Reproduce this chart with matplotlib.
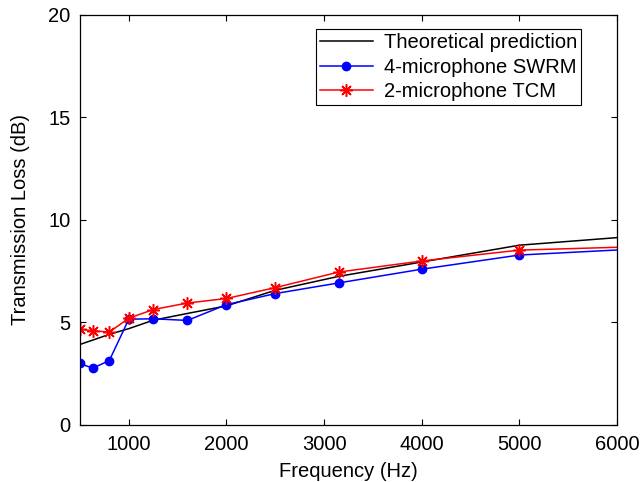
import matplotlib
matplotlib.use("Agg")
import matplotlib.pyplot as plt

plt.rcParams['font.family'] = ['Liberation Sans', 'DejaVu Sans']

# third-octave band centres (Hz); last point lies beyond the axis limit
freq = [500, 630, 800, 1000, 1250, 1600, 2000, 2500, 3150, 4000, 5000, 6300]

tl_theory = [3.93, 4.14, 4.42, 4.70, 5.11, 5.44, 5.81, 6.57, 7.25, 7.95, 8.77, 9.25]
tl_swrm = [3.00, 2.77, 3.14, 5.16, 5.18, 5.10, 5.87, 6.41, 6.93, 7.60, 8.29, 8.61]
tl_tcm = [4.67, 4.60, 4.53, 5.21, 5.63, 5.95, 6.17, 6.70, 7.46, 8.00, 8.53, 8.71]

fs = 14.5

fig = plt.figure(figsize=(6.42, 4.82), dpi=100)
ax = fig.add_axes([0.1246, 0.1183, 0.8364, 0.8506])

ax.plot(freq, tl_theory, color="black", lw=1.1, label="Theoretical prediction")
ax.plot(freq, tl_swrm, color="blue", lw=1.1, marker="o", ms=6,
        label="4-microphone SWRM")
ax.plot(freq, tl_tcm, color="red", lw=1.1, marker=(8, 2, 0), ms=9, mew=1.1,
        label="2-microphone TCM")

ax.set_xlim(500, 6000)
ax.set_ylim(0, 20)
ax.set_xticks([1000, 2000, 3000, 4000, 5000, 6000])
ax.set_yticks([0, 5, 10, 15, 20])
ax.tick_params(direction="in", top=True, right=True, labelsize=fs,
               length=4, width=0.8, pad=7)
for s in ax.spines.values():
    s.set_linewidth(0.9)

ax.set_xlabel("Frequency (Hz)", fontsize=fs, labelpad=6)
ax.set_ylabel("Transmission Loss (dB)", fontsize=fs, labelpad=13)

leg = ax.legend(loc="upper right", bbox_to_anchor=(0.933, 0.966), fontsize=fs,
                fancybox=False, framealpha=1, edgecolor="black",
                borderpad=0.2, labelspacing=0.28, handlelength=2.6,
                handletextpad=0.55, borderaxespad=0)
leg.get_frame().set_linewidth(0.8)

fig.savefig("out.png", dpi=100)
